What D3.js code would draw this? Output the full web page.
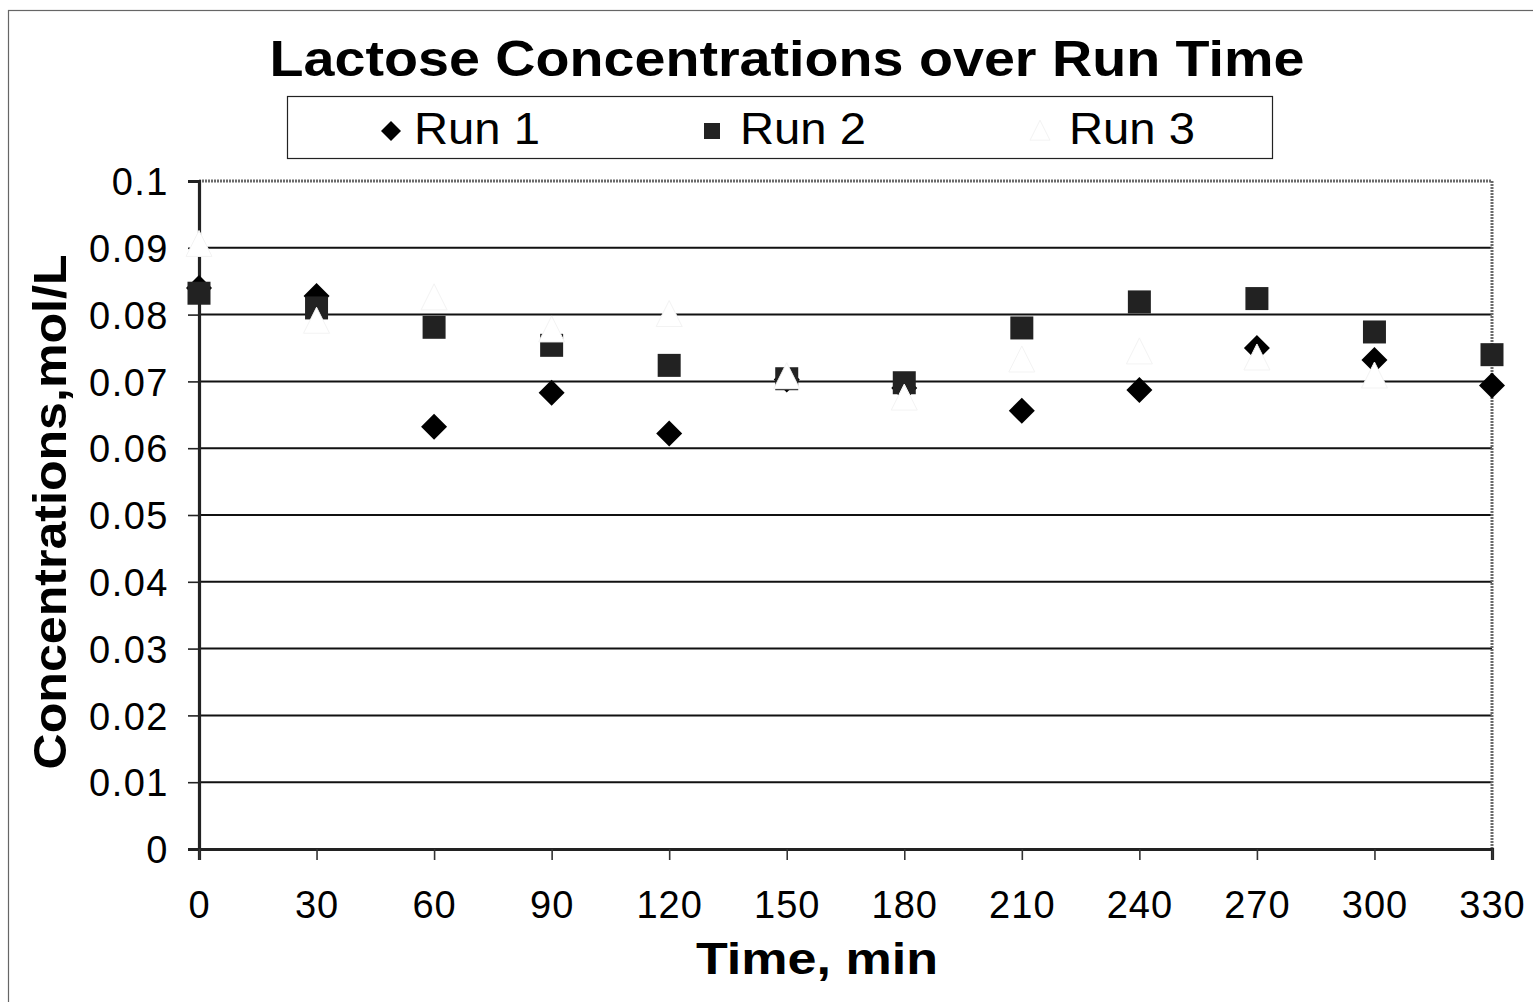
<!DOCTYPE html>
<html>
<head>
<meta charset="utf-8">
<script src="https://cdn.jsdelivr.net/npm/d3@7"></script>
<style>
  html, body { margin: 0; padding: 0; background: #fff; }
  svg { display: block; }
  text { font-family: "Liberation Sans", Arial, sans-serif; fill: #000; }
</style>
</head>
<body>
<svg id="chart" width="1533" height="1002"></svg>
<script>
// Sampling times (min)
const times = [0, 30, 60, 90, 120, 150, 180, 210, 240, 270, 300, 330];
// Lactose concentration, mol/L, per run
const run1 = [0.0840, 0.0828, 0.0632, 0.0683, 0.0622, 0.0703, 0.0690, 0.0656, 0.0687, 0.0750, 0.0732, 0.0694];
const run2 = [0.0832, 0.0810, 0.0781, 0.0754, 0.0724, 0.0704, 0.0698, 0.0780, 0.0819, 0.0824, 0.0774, 0.0740];
const run3 = [0.0905, 0.0790, 0.0825, 0.0777, 0.0800, 0.0707, 0.0675, 0.0732, 0.0744, 0.0735, 0.0708, null];
const seriesNames = ["Run 1", "Run 2", "Run 3"];
const yTicks = [0, 0.01, 0.02, 0.03, 0.04, 0.05, 0.06, 0.07, 0.08, 0.09, 0.1];
const yTickLabels = ["0", "0.01", "0.02", "0.03", "0.04", "0.05", "0.06", "0.07", "0.08", "0.09", "0.1"];
const xTicks = times;

const svg = d3.select("#chart");
const plot = { left: 199, right: 1492, top: 181, bottom: 849 };

const x = d3.scaleLinear().domain([0, 330]).range([plot.left, plot.right]);
const y = d3.scaleLinear().domain([0, 0.1]).range([plot.bottom, plot.top]);

// outer chart frame
svg.append("rect")
  .attr("x", 8.5).attr("y", 10.5).attr("width", 1540).attr("height", 1000)
  .attr("fill", "#fff").attr("stroke", "#666").attr("stroke-width", 1.2);

// title
svg.append("text")
  .attr("x", 787).attr("y", 76)
  .attr("text-anchor", "middle")
  .attr("font-size", 50).attr("font-weight", "bold")
  .attr("textLength", 1035).attr("lengthAdjust", "spacingAndGlyphs")
  .text("Lactose Concentrations over Run Time");

// legend box
const legend = svg.append("g");
legend.append("rect")
  .attr("x", 287.5).attr("y", 96.5).attr("width", 985).attr("height", 62)
  .attr("fill", "#fff").attr("stroke", "#222").attr("stroke-width", 1.2);

// marker shapes
function diamondPath(r) { return `M0,${-r}L${r},0L0,${r}L${-r},0Z`; }
function squarePath(s) { return `M${-s},${-s}H${s}V${s}H${-s}Z`; }
function trianglePath(w, h) { return `M0,${-h * 0.54}L${w},${h * 0.46}L${-w},${h * 0.46}Z`; }

const markerStyles = [
  { path: diamondPath(13), fill: "#000", stroke: "none" },
  { path: squarePath(11.5), fill: "#222", stroke: "none" },
  { path: trianglePath(13, 26), fill: "#fff", stroke: "#f3f3f3" }
];

const legendPos = [
  { mx: 391, tx: 414, ms: diamondPath(10) },
  { mx: 712, tx: 740, ms: squarePath(8) },
  { mx: 1040, tx: 1069, ms: trianglePath(10, 20) }
];
seriesNames.forEach((name, i) => {
  legend.append("path")
    .attr("d", legendPos[i].ms)
    .attr("transform", `translate(${legendPos[i].mx},131)`)
    .attr("fill", markerStyles[i].fill)
    .attr("stroke", markerStyles[i].stroke);
  legend.append("text")
    .attr("x", legendPos[i].tx).attr("y", 144)
    .attr("font-size", 44)
    .attr("textLength", 126).attr("lengthAdjust", "spacingAndGlyphs")
    .text(name);
});

// plot background
svg.append("rect")
  .attr("x", plot.left).attr("y", plot.top)
  .attr("width", plot.right - plot.left).attr("height", plot.bottom - plot.top)
  .attr("fill", "#fff");

// horizontal gridlines
svg.append("g").selectAll("line")
  .data(yTicks.filter(t => t > 0 && t < 0.1))
  .join("line")
  .attr("x1", plot.left).attr("x2", plot.right)
  .attr("y1", d => y(d)).attr("y2", d => y(d))
  .attr("stroke", "#111").attr("stroke-width", 2);

// top and right plot-area border (grey, textured)
svg.append("path")
  .attr("d", `M${plot.left},${plot.top}H${plot.right}V${plot.bottom}`)
  .attr("fill", "none").attr("stroke", "#6a6a6a").attr("stroke-width", 3)
  .attr("stroke-dasharray", "2,1");

// y axis
const yAxis = d3.axisLeft(y)
  .tickValues(yTicks)
  .tickFormat((d, i) => yTickLabels[i])
  .tickSize(11).tickPadding(19);
const gy = svg.append("g")
  .attr("transform", `translate(${plot.left},0)`)
  .call(yAxis);
gy.select(".domain").attr("stroke", "#222").attr("stroke-width", 3.2);
gy.selectAll(".tick line").attr("stroke", "#222").attr("stroke-width", 1.6);
gy.selectAll(".tick text")
  .attr("font-size", 38)
  .attr("font-family", "Liberation Sans, Arial, sans-serif")
  .attr("dy", "0.36em")
  .attr("letter-spacing", 1.5)
  .attr("fill", "#000");

// x axis
const xAxis = d3.axisBottom(x)
  .tickValues(xTicks)
  .tickFormat(d3.format("d"))
  .tickSize(11).tickPadding(31);
const gx = svg.append("g")
  .attr("transform", `translate(0,${plot.bottom})`)
  .call(xAxis);
gx.select(".domain").attr("stroke", "#222").attr("stroke-width", 3.2);
gx.selectAll(".tick line").attr("stroke", "#333").attr("stroke-width", 1.6);
gx.selectAll(".tick text")
  .attr("font-size", 38)
  .attr("font-family", "Liberation Sans, Arial, sans-serif")
  .attr("letter-spacing", 1)
  .attr("fill", "#000");

// axis titles
svg.append("text")
  .attr("x", 817).attr("y", 974)
  .attr("text-anchor", "middle")
  .attr("font-size", 44).attr("font-weight", "bold")
  .attr("textLength", 242).attr("lengthAdjust", "spacingAndGlyphs")
  .text("Time, min");

svg.append("text")
  .attr("transform", "translate(66,512) rotate(-90)")
  .attr("text-anchor", "middle")
  .attr("font-size", 46).attr("font-weight", "bold")
  .attr("textLength", 515).attr("lengthAdjust", "spacingAndGlyphs")
  .text("Concentrations,mol/L");

// data markers: Run 1 diamonds, Run 2 squares, Run 3 triangles on top
const allRuns = [run1, run2, run3];
allRuns.forEach((vals, i) => {
  const pts = times.map((t, j) => ({ t, v: vals[j] })).filter(d => d.v != null);
  svg.append("g").selectAll("path")
    .data(pts)
    .join("path")
    .attr("d", markerStyles[i].path)
    .attr("transform", d => `translate(${x(d.t)},${y(d.v)})`)
    .attr("fill", markerStyles[i].fill)
    .attr("stroke", markerStyles[i].stroke)
    .attr("stroke-width", 1);
});
</script>
</body>
</html>
